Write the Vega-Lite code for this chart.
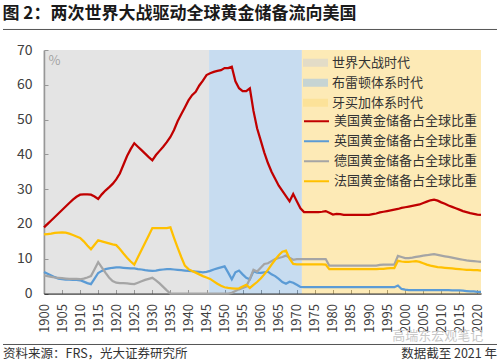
{
  "$schema": "https://vega.github.io/schema/vega-lite/v6.json",
  "width": 437,
  "height": 243.5,
  "autosize": "none",
  "padding": {"left": 44, "top": 50, "right": 19, "bottom": 70.5},
  "background": "white",
  "title": {
    "text": "图 2：两次世界大战驱动全球黄金储备流向美国",
    "anchor": "start",
    "frame": "bounds",
    "fontSize": 17,
    "fontWeight": "bold",
    "color": "#1a1a1a",
    "offset": 6
  },
  "resolve": {"axis": {"x": "independent", "y": "independent"}},
  "datasets": {
    "eras": [
      {"era": "世界大战时代", "start": 1900, "end": 1945.7},
      {"era": "布雷顿体系时代", "start": 1945.7, "end": 1971.4},
      {"era": "牙买加体系时代", "start": 1971.4, "end": 2021}
    ],
    "gold": [
      {"year": 1900, "US": 19.0, "UK": 6.2, "DE": 5.2, "FR": 17.0},
      {"year": 1901, "US": 20.0, "UK": 5.7, "DE": 5.0, "FR": 17.1},
      {"year": 1902, "US": 21.0, "UK": 5.2, "DE": 4.8, "FR": 17.2},
      {"year": 1903, "US": 22.0, "UK": 4.7, "DE": 4.6, "FR": 17.4},
      {"year": 1904, "US": 23.0, "UK": 4.3, "DE": 4.5, "FR": 17.5},
      {"year": 1905, "US": 24.0, "UK": 4.1, "DE": 4.4, "FR": 17.6},
      {"year": 1906, "US": 25.0, "UK": 4.0, "DE": 4.3, "FR": 17.5},
      {"year": 1907, "US": 26.0, "UK": 4.0, "DE": 4.2, "FR": 17.2},
      {"year": 1908, "US": 27.0, "UK": 3.9, "DE": 4.2, "FR": 16.8},
      {"year": 1909, "US": 27.8, "UK": 3.9, "DE": 4.2, "FR": 16.4},
      {"year": 1910, "US": 28.4, "UK": 3.8, "DE": 4.1, "FR": 16.0},
      {"year": 1911, "US": 28.5, "UK": 3.4, "DE": 4.3, "FR": 15.0},
      {"year": 1912, "US": 28.5, "UK": 3.0, "DE": 4.6, "FR": 13.8},
      {"year": 1913, "US": 28.4, "UK": 2.7, "DE": 5.0, "FR": 12.7},
      {"year": 1914, "US": 27.9, "UK": 4.3, "DE": 7.0, "FR": 14.0},
      {"year": 1915, "US": 27.2, "UK": 5.9, "DE": 9.0, "FR": 15.3},
      {"year": 1916, "US": 28.5, "UK": 6.5, "DE": 7.5, "FR": 15.0},
      {"year": 1917, "US": 29.6, "UK": 7.0, "DE": 6.0, "FR": 14.7},
      {"year": 1918, "US": 30.5, "UK": 7.2, "DE": 4.6, "FR": 14.4},
      {"year": 1919, "US": 31.5, "UK": 7.4, "DE": 3.6, "FR": 14.1},
      {"year": 1920, "US": 32.8, "UK": 7.5, "DE": 3.1, "FR": 13.9},
      {"year": 1921, "US": 34.5, "UK": 7.5, "DE": 3.0, "FR": 12.8},
      {"year": 1922, "US": 37.0, "UK": 7.4, "DE": 3.0, "FR": 11.5},
      {"year": 1923, "US": 39.5, "UK": 7.3, "DE": 2.9, "FR": 10.3},
      {"year": 1924, "US": 41.5, "UK": 7.2, "DE": 2.8, "FR": 9.2},
      {"year": 1925, "US": 43.2, "UK": 7.2, "DE": 2.7, "FR": 8.3},
      {"year": 1926, "US": 42.2, "UK": 7.0, "DE": 3.1, "FR": 10.4},
      {"year": 1927, "US": 41.2, "UK": 6.9, "DE": 3.5, "FR": 12.5},
      {"year": 1928, "US": 40.2, "UK": 6.7, "DE": 3.9, "FR": 14.6},
      {"year": 1929, "US": 39.2, "UK": 6.6, "DE": 4.2, "FR": 16.7},
      {"year": 1930, "US": 38.3, "UK": 6.5, "DE": 4.5, "FR": 18.8},
      {"year": 1931, "US": 39.8, "UK": 6.6, "DE": 3.8, "FR": 18.8},
      {"year": 1932, "US": 41.0, "UK": 6.8, "DE": 2.9, "FR": 18.8},
      {"year": 1933, "US": 42.2, "UK": 6.9, "DE": 1.9, "FR": 18.8},
      {"year": 1934, "US": 43.5, "UK": 7.0, "DE": 0.9, "FR": 18.8},
      {"year": 1935, "US": 45.0, "UK": 7.0, "DE": 0.0, "FR": 19.0},
      {"year": 1936, "US": 47.0, "UK": 6.9, "DE": 0.0, "FR": 16.0},
      {"year": 1937, "US": 49.5, "UK": 6.8, "DE": 0.0, "FR": 13.2},
      {"year": 1938, "US": 51.5, "UK": 6.7, "DE": 0.0, "FR": 10.5},
      {"year": 1939, "US": 53.5, "UK": 6.6, "DE": 0.0, "FR": 8.0},
      {"year": 1940, "US": 55.5, "UK": 6.5, "DE": 0.0, "FR": 7.0},
      {"year": 1941, "US": 57.0, "UK": 6.4, "DE": 0.0, "FR": 6.5},
      {"year": 1942, "US": 58.0, "UK": 6.3, "DE": 0.0, "FR": 6.0},
      {"year": 1943, "US": 59.8, "UK": 6.2, "DE": 0.0, "FR": 5.5},
      {"year": 1944, "US": 61.2, "UK": 6.1, "DE": 0.0, "FR": 5.0},
      {"year": 1945, "US": 62.8, "UK": 6.2, "DE": 0.0, "FR": 4.6},
      {"year": 1946, "US": 63.3, "UK": 6.5, "DE": 0.0, "FR": 4.2},
      {"year": 1947, "US": 63.7, "UK": 6.9, "DE": 0.0, "FR": 3.5},
      {"year": 1948, "US": 64.0, "UK": 7.2, "DE": 0.0, "FR": 2.8},
      {"year": 1949, "US": 64.2, "UK": 7.5, "DE": 0.0, "FR": 2.2},
      {"year": 1950, "US": 64.8, "UK": 7.8, "DE": 0.0, "FR": 1.8},
      {"year": 1951, "US": 64.8, "UK": 6.0, "DE": 0.0, "FR": 1.6},
      {"year": 1952, "US": 65.2, "UK": 4.1, "DE": 0.2, "FR": 1.5},
      {"year": 1953, "US": 61.0, "UK": 6.1, "DE": 0.7, "FR": 1.4},
      {"year": 1954, "US": 59.0, "UK": 6.6, "DE": 1.2, "FR": 1.5},
      {"year": 1955, "US": 58.2, "UK": 5.5, "DE": 1.6, "FR": 2.0},
      {"year": 1956, "US": 58.2, "UK": 4.5, "DE": 2.0, "FR": 2.5},
      {"year": 1957, "US": 59.0, "UK": 4.1, "DE": 4.2, "FR": 1.6},
      {"year": 1958, "US": 52.5, "UK": 6.4, "DE": 6.8, "FR": 2.5},
      {"year": 1959, "US": 47.5, "UK": 6.0, "DE": 6.3, "FR": 3.3},
      {"year": 1960, "US": 44.0, "UK": 5.9, "DE": 7.4, "FR": 4.3},
      {"year": 1961, "US": 40.5, "UK": 6.1, "DE": 8.5, "FR": 5.5},
      {"year": 1962, "US": 37.5, "UK": 6.3, "DE": 8.7, "FR": 6.8},
      {"year": 1963, "US": 35.0, "UK": 5.5, "DE": 9.3, "FR": 8.3},
      {"year": 1964, "US": 33.0, "UK": 5.0, "DE": 9.9, "FR": 9.7},
      {"year": 1965, "US": 31.0, "UK": 4.2, "DE": 10.2, "FR": 11.0},
      {"year": 1966, "US": 29.5, "UK": 3.3, "DE": 10.5, "FR": 12.0},
      {"year": 1967, "US": 28.0, "UK": 2.8, "DE": 10.9, "FR": 12.3},
      {"year": 1968, "US": 26.5, "UK": 3.4, "DE": 10.3, "FR": 10.0},
      {"year": 1969, "US": 28.6, "UK": 3.1, "DE": 9.7, "FR": 8.5},
      {"year": 1970, "US": 26.5, "UK": 2.5, "DE": 9.9, "FR": 8.4},
      {"year": 1971, "US": 24.5, "UK": 1.9, "DE": 9.9, "FR": 8.4},
      {"year": 1972, "US": 23.4, "UK": 1.8, "DE": 9.9, "FR": 8.4},
      {"year": 1973, "US": 23.4, "UK": 1.8, "DE": 9.9, "FR": 8.4},
      {"year": 1974, "US": 23.4, "UK": 1.8, "DE": 9.9, "FR": 8.4},
      {"year": 1975, "US": 23.4, "UK": 1.8, "DE": 9.9, "FR": 8.4},
      {"year": 1976, "US": 23.4, "UK": 1.8, "DE": 9.9, "FR": 8.4},
      {"year": 1977, "US": 23.5, "UK": 1.8, "DE": 9.9, "FR": 8.4},
      {"year": 1978, "US": 23.7, "UK": 1.8, "DE": 9.9, "FR": 8.3},
      {"year": 1979, "US": 23.2, "UK": 1.8, "DE": 8.0, "FR": 7.0},
      {"year": 1980, "US": 22.7, "UK": 1.8, "DE": 8.0, "FR": 7.0},
      {"year": 1981, "US": 22.9, "UK": 1.8, "DE": 8.0, "FR": 7.0},
      {"year": 1982, "US": 22.8, "UK": 1.8, "DE": 8.0, "FR": 7.0},
      {"year": 1983, "US": 22.6, "UK": 1.8, "DE": 8.0, "FR": 7.0},
      {"year": 1984, "US": 22.6, "UK": 1.8, "DE": 8.0, "FR": 7.0},
      {"year": 1985, "US": 22.6, "UK": 1.8, "DE": 8.0, "FR": 7.0},
      {"year": 1986, "US": 22.6, "UK": 1.8, "DE": 8.0, "FR": 7.0},
      {"year": 1987, "US": 22.6, "UK": 1.8, "DE": 8.0, "FR": 7.0},
      {"year": 1988, "US": 22.6, "UK": 1.8, "DE": 8.0, "FR": 7.0},
      {"year": 1989, "US": 22.6, "UK": 1.8, "DE": 8.0, "FR": 7.0},
      {"year": 1990, "US": 22.6, "UK": 1.8, "DE": 8.0, "FR": 7.0},
      {"year": 1991, "US": 22.8, "UK": 1.8, "DE": 8.0, "FR": 7.0},
      {"year": 1992, "US": 23.0, "UK": 1.8, "DE": 8.0, "FR": 7.0},
      {"year": 1993, "US": 23.3, "UK": 1.8, "DE": 8.2, "FR": 7.1},
      {"year": 1994, "US": 23.5, "UK": 1.8, "DE": 8.3, "FR": 7.1},
      {"year": 1995, "US": 23.7, "UK": 1.8, "DE": 8.3, "FR": 7.2},
      {"year": 1996, "US": 23.9, "UK": 1.8, "DE": 8.3, "FR": 7.3},
      {"year": 1997, "US": 24.1, "UK": 1.8, "DE": 8.3, "FR": 7.3},
      {"year": 1998, "US": 24.3, "UK": 2.3, "DE": 10.8, "FR": 9.4},
      {"year": 1999, "US": 24.6, "UK": 1.3, "DE": 10.5, "FR": 9.2},
      {"year": 2000, "US": 24.8, "UK": 1.1, "DE": 10.2, "FR": 9.1},
      {"year": 2001, "US": 25.0, "UK": 1.0, "DE": 10.2, "FR": 9.1},
      {"year": 2002, "US": 25.2, "UK": 1.0, "DE": 10.3, "FR": 9.2},
      {"year": 2003, "US": 25.4, "UK": 1.0, "DE": 10.5, "FR": 9.3},
      {"year": 2004, "US": 25.6, "UK": 1.0, "DE": 10.7, "FR": 9.1},
      {"year": 2005, "US": 26.0, "UK": 1.0, "DE": 10.9, "FR": 8.7},
      {"year": 2006, "US": 26.4, "UK": 1.0, "DE": 11.0, "FR": 8.3},
      {"year": 2007, "US": 26.8, "UK": 1.0, "DE": 11.2, "FR": 8.0},
      {"year": 2008, "US": 27.0, "UK": 1.0, "DE": 11.3, "FR": 7.8},
      {"year": 2009, "US": 26.7, "UK": 1.0, "DE": 11.1, "FR": 7.6},
      {"year": 2010, "US": 26.2, "UK": 1.0, "DE": 10.9, "FR": 7.5},
      {"year": 2011, "US": 25.8, "UK": 1.0, "DE": 10.7, "FR": 7.4},
      {"year": 2012, "US": 25.3, "UK": 1.0, "DE": 10.5, "FR": 7.3},
      {"year": 2013, "US": 24.9, "UK": 0.9, "DE": 10.3, "FR": 7.2},
      {"year": 2014, "US": 24.5, "UK": 0.9, "DE": 10.1, "FR": 7.1},
      {"year": 2015, "US": 24.1, "UK": 0.9, "DE": 9.9, "FR": 7.0},
      {"year": 2016, "US": 23.7, "UK": 0.8, "DE": 9.7, "FR": 6.9},
      {"year": 2017, "US": 23.4, "UK": 0.7, "DE": 9.5, "FR": 6.8},
      {"year": 2018, "US": 23.1, "UK": 0.6, "DE": 9.4, "FR": 6.8},
      {"year": 2019, "US": 22.9, "UK": 0.6, "DE": 9.3, "FR": 6.7},
      {"year": 2020, "US": 22.7, "UK": 0.5, "DE": 9.2, "FR": 6.7},
      {"year": 2021, "US": 22.6, "UK": 0.5, "DE": 9.1, "FR": 6.6}
    ]
  },
  "layer": [
    {
      "data": {"name": "eras"},
      "mark": {"type": "rect", "opacity": 0.6},
      "encoding": {
        "x": {
          "field": "start",
          "type": "quantitative",
          "scale": {"domain": [1900, 2021], "nice": false, "zero": false},
          "axis": null
        },
        "x2": {"field": "end"},
        "fill": {
          "field": "era",
          "type": "nominal",
          "scale": {
            "domain": ["世界大战时代", "布雷顿体系时代", "牙买加体系时代"],
            "range": ["#d2d2d2", "#a2c5e6", "#fcdc85"]
          },
          "legend": {
            "orient": "none",
            "legendX": 259,
            "legendY": 3,
            "title": null,
            "symbolType": "M-1,-0.32H1V0.32H-1Z",
            "symbolSize": 625,
            "symbolOpacity": 0.6,
            "symbolStrokeWidth": 0,
            "clipHeight": 19.5,
            "rowPadding": 0,
            "padding": 0,
            "labelFontSize": 13,
            "labelColor": "#333333",
            "labelOffset": 4,
            "labelLimit": 300
          }
        }
      }
    },
    {
      "data": {"name": "gold"},
      "transform": [
        {"fold": ["US", "UK", "DE", "FR"], "as": ["country", "share"]}
      ],
      "mark": {"type": "line", "strokeWidth": 2.25, "interpolate": "linear"},
      "encoding": {
        "x": {
          "field": "year",
          "type": "quantitative",
          "scale": {"domain": [1900, 2021], "nice": false, "zero": false},
          "axis": {
            "title": null,
            "orient": "bottom",
            "values": [1900, 1905, 1910, 1915, 1920, 1925, 1930, 1935, 1940, 1945, 1950, 1955, 1960, 1965, 1970, 1975, 1980, 1985, 1990, 1995, 2000, 2005, 2010, 2015, 2020],
            "format": "d",
            "labelAngle": -90,
            "labelAlign": "right",
            "labelBaseline": "middle",
            "labelFontSize": 13,
            "labelColor": "#404040",
            "labelPadding": 14,
            "labelOverlap": false,
            "labelFlush": false,
            "tickSize": -4,
            "tickColor": "#404040",
            "domainColor": "#404040",
            "domainWidth": 1.5,
            "grid": false
          }
        },
        "y": {
          "field": "share",
          "type": "quantitative",
          "scale": {"domain": [0, 70], "nice": false},
          "axis": {
            "title": "%",
            "orient": "left",
            "values": [0, 10, 20, 30, 40, 50, 60, 70],
            "format": "d",
            "labelFontSize": 14,
            "labelColor": "#404040",
            "labelPadding": 16,
            "labelOverlap": false,
            "labelFlush": false,
            "tickSize": -4,
            "tickColor": "#404040",
            "domainColor": "#404040",
            "domainWidth": 1.5,
            "grid": false,
            "titleAngle": 0,
            "titleX": 4,
            "titleY": 10,
            "titleAlign": "left",
            "titleBaseline": "middle",
            "titleFontSize": 13,
            "titleFontWeight": "normal",
            "titleColor": "#595959"
          }
        },
        "stroke": {
          "field": "country",
          "type": "nominal",
          "scale": {
            "domain": ["US", "UK", "DE", "FR"],
            "range": ["#c00000", "#5b9bd5", "#a5a5a5", "#ffc000"]
          },
          "legend": {
            "orient": "none",
            "legendX": 259,
            "legendY": 61.5,
            "title": null,
            "symbolType": "stroke",
            "symbolSize": 625,
            "symbolStrokeWidth": 2,
            "clipHeight": 19.5,
            "rowPadding": 0,
            "padding": 0,
            "labelFontSize": 13,
            "labelColor": "#333333",
            "labelOffset": 4,
            "labelLimit": 300,
            "labelExpr": "{'US':'美国黄金储备占全球比重','UK':'英国黄金储备占全球比重','DE':'德国黄金储备占全球比重','FR':'法国黄金储备占全球比重'}[datum.label]"
          }
        }
      }
    },
    {
      "data": {"values": [{}]},
      "mark": {"type": "rule", "color": "#555555", "strokeWidth": 1},
      "encoding": {
        "x": {"datum": 1888.65, "type": "quantitative", "axis": null},
        "x2": {"datum": 2025.43},
        "y": {"datum": 75.9, "type": "quantitative", "axis": null}
      }
    },
    {
      "data": {"values": [{}]},
      "mark": {"type": "rule", "color": "#555555", "strokeWidth": 1},
      "encoding": {
        "x": {"datum": 1888.65, "type": "quantitative", "axis": null},
        "x2": {"datum": 2025.43},
        "y": {"datum": -14.66, "type": "quantitative", "axis": null}
      }
    },
    {
      "data": {"values": [{}]},
      "mark": {"type": "text", "text": "高瑞东宏观笔记", "align": "right", "baseline": "alphabetic", "fontSize": 13, "color": "#c8c8c8"},
      "encoding": {
        "x": {"datum": 2021.6, "type": "quantitative", "axis": null},
        "y": {"datum": -13.4, "type": "quantitative", "axis": null}
      }
    },
    {
      "data": {"values": [{}]},
      "mark": {"type": "text", "text": "资料来源：FRS，光大证券研究所", "align": "left", "baseline": "alphabetic", "fontSize": 12.5, "color": "#333333"},
      "encoding": {
        "x": {"datum": 1888.65, "type": "quantitative", "axis": null},
        "y": {"datum": -18.6, "type": "quantitative", "axis": null}
      }
    },
    {
      "data": {"values": [{}]},
      "mark": {"type": "text", "text": "数据截至 2021 年", "align": "right", "baseline": "alphabetic", "fontSize": 12.5, "color": "#333333"},
      "encoding": {
        "x": {"datum": 2025.43, "type": "quantitative", "axis": null},
        "y": {"datum": -18.6, "type": "quantitative", "axis": null}
      }
    }
  ],
  "config": {
    "font": "Noto Sans CJK SC",
    "view": {"stroke": null}
  }
}
